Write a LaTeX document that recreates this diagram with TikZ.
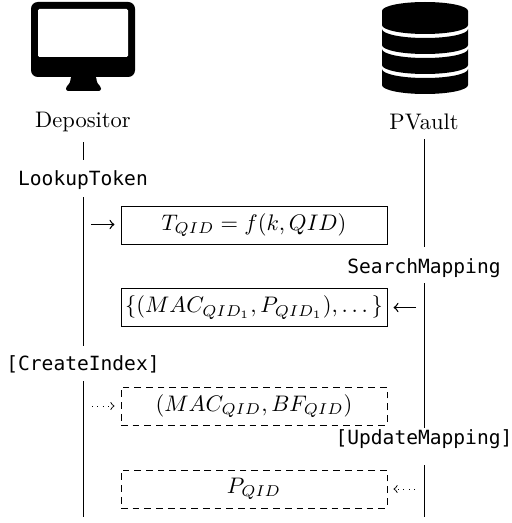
\documentclass[tikz,border=0pt]{standalone}
\usepackage{amsmath}
\usepackage{amssymb}
\usepackage{fontspec}
\setmonofont{DejaVu Sans Mono}[Scale=0.87]
\usepackage{tikz}
\tikzstyle{actor}=[inner sep=0pt]
\tikzstyle{call}=[font=\ttfamily, inner sep=0pt]
\tikzstyle{opbox}=[draw, inner sep=0pt, minimum width=118.2pt, minimum height=16.9pt]
\tikzstyle{optbox}=[opbox, dash pattern=on 3pt off 2.2pt]
\tikzstyle{msg}=[->, line width=0.6pt, shorten >=2.7pt]
\tikzstyle{optmsg}=[->, dotted, shorten >=2.7pt]

\begin{document}
\begin{tikzpicture}[x=0.4444pt, y=-0.4444pt]
        \useasboundingbox (0,0) rectangle (511,523);
        % depositor icon
        \fill[rounded corners=3pt] (31,2) rectangle (135,77);
        \fill[white, rounded corners=0.6pt] (38,9) rectangle (128,57);
        \fill[rounded corners=1pt] (71,76) -- (96,76) -- (97,83) -- (101,87) -- (101,91) -- (66,91) -- (66,87) -- (70,83) -- cycle;
        % vault icon
        \fill (382,11) .. controls (382,6) and (401,2) .. (425,2) .. controls (449,2) and (468,6) .. (468,11) -- (468,25) .. controls (468,30) and (449,34) .. (425,34) .. controls (401,34) and (382,30) .. (382,25) -- cycle;
        \foreach \yb in {29,49,69} {
            \fill (382,\yb) .. controls (382,\yb+5) and (401,\yb+9) .. (425,\yb+9) .. controls (449,\yb+9) and (468,\yb+5) .. (468,\yb) -- (468,\yb+16) .. controls (468,\yb+21) and (449,\yb+25) .. (425,\yb+25) .. controls (401,\yb+25) and (382,\yb+21) .. (382,\yb+16) -- cycle;
        }
        \node[actor]  (Dep) at (83,122) {Depositor};
        \node[actor]  (PV) at (424,122) {PVault};
        \node[call]   (Lookup) at (83,180) {LookupToken};
        \node[call]   (Search) at (424,268) {SearchMapping};
        \node[call]   (Create) at (83,364) {[CreateIndex]};
        \node[call]   (Update) at (424,439.5) {[UpdateMapping]};
        \node[opbox]  (Tqid) at (254,225) {$T_{QID} = f(k, QID)$};
        \node[opbox]  (MacList) at (254,307.5) {$\{(MAC_{QID_1}, P_{QID_1}), \dots\}$};
        \node[optbox] (MacBf) at (254,406) {$(MAC_{QID}, BF_{QID})$};
        \node[optbox] (Pqid) at (254,489) {$P_{QID}$};
        \coordinate (D1) at (83,142);
        \coordinate (D2) at (83,160);
        \coordinate (D3) at (83,197);
        \coordinate (D4) at (83,346);
        \coordinate (D5) at (83,381);
        \coordinate (D6) at (83,517);
        \coordinate (V1) at (424,139);
        \coordinate (V2) at (424,247);
        \coordinate (V3) at (424,283);
        \coordinate (V4) at (424,428);
        \coordinate (V5) at (424,465);
        \coordinate (V6) at (424,517);
        \draw (D1) -- (D2) (D3) -- (D4) (D5) -- (D6);
        \draw (V1) -- (V2) (V3) -- (V4) (V5) -- (V6);
        \coordinate (Tin) at (91,224.5);
        \coordinate (Lin) at (416,307.5);
        \coordinate (Bin) at (92,406);
        \coordinate (Pin) at (415,489);
        \draw[msg] (Tin) -- (Tqid.west |- Tin);
        \draw[msg] (Lin) -- (MacList.east |- Lin);
        \draw[optmsg] (Bin) -- (MacBf.west |- Bin);
        \draw[optmsg] (Pin) -- (Pqid.east |- Pin);
    \end{tikzpicture}
\end{document}
